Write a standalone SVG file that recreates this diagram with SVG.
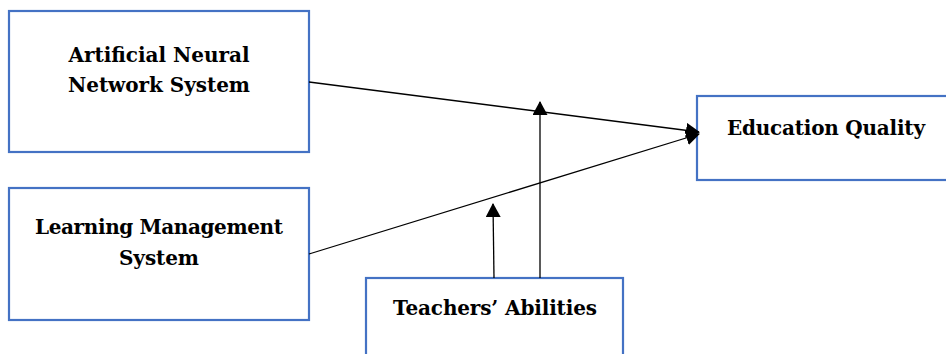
<svg xmlns="http://www.w3.org/2000/svg" width="946" height="354" viewBox="0 0 946 354">
<style>
.box{fill:#fff;stroke:#4472C4;stroke-width:2.2}
.t{font-family:"DejaVu Serif","Liberation Serif",serif;font-weight:bold;font-size:20px;fill:#000;text-anchor:middle}
.c{stroke:#000;stroke-width:1.3;fill:none;marker-end:url(#ah)}
</style>
<defs>
<marker id="ah" markerUnits="userSpaceOnUse" markerWidth="14" markerHeight="16" refX="13" refY="7.5" orient="auto">
<path d="M0,0 L14,7.5 L0,15 Z" fill="#000"/>
</marker>
</defs>
<rect width="946" height="354" fill="#fff"/>
<g id="ann">
<rect class="box" x="9" y="11" width="300" height="141"/>
<text class="t" x="159" y="62" textLength="181">Artificial Neural</text>
<text class="t" x="159" y="92" textLength="182">Network System</text>
</g>
<g id="lms">
<rect class="box" x="9" y="188" width="300" height="132"/>
<text class="t" x="159" y="234" textLength="248">Learning Management</text>
<text class="t" x="159" y="265" textLength="80">System</text>
</g>
<g id="eq">
<rect class="box" x="697" y="96" width="252" height="84"/>
<text class="t" x="826" y="135" textLength="198">Education Quality</text>
</g>
<g id="ta">
<rect class="box" x="366" y="278" width="257" height="80"/>
<text class="t" x="495" y="315" textLength="204">Teachers’ Abilities</text>
</g>
<g id="connectors">
<line class="c" x1="309" y1="82" x2="699" y2="132"/>
<line class="c" x1="309" y1="254" x2="699" y2="134"/>
<line class="c" x1="540" y1="278" x2="540" y2="102"/>
<line class="c" x1="494" y1="278" x2="493" y2="204"/>
</g>
</svg>
